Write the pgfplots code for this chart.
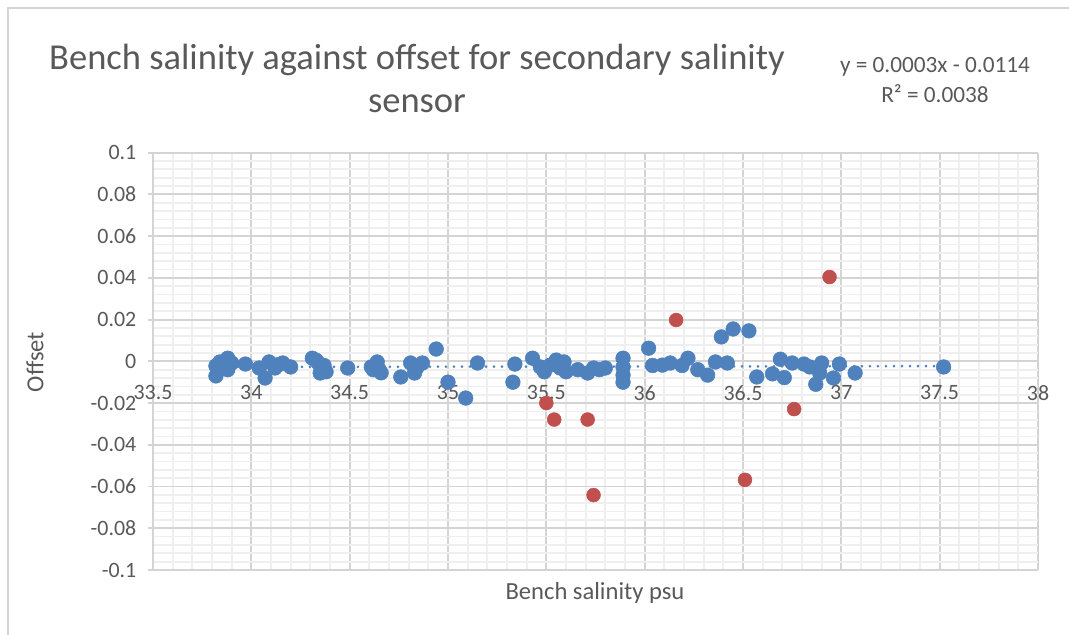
\documentclass[border=0pt]{standalone}
\usepackage{pgfplots}
\pgfplotsset{compat=1.18}
\usepackage{fontspec}
\setmainfont{Carlito}
\definecolor{sblue}{HTML}{4F81BD}
\definecolor{sred}{HTML}{C0504D}
\definecolor{txt}{HTML}{595959}
\definecolor{gmaj}{HTML}{D4D4D4}
\definecolor{gmin}{HTML}{EFEFEF}

\begin{document}
\begin{tikzpicture}
\useasboundingbox (0,0) rectangle (801.75bp,476.25bp);
\draw[gmaj, line width=1.2bp] (6bp,-20bp) -- (6bp,470.25bp) -- (820bp,470.25bp);

\begin{axis}[
    at={(114.75bp,48.75bp)}, anchor=south west,
    scale only axis,
    width=663.75bp, height=313bp,
    xmin=33.5, xmax=38, ymin=-0.1, ymax=0.1,
    xtick={33.5,34,34.5,35,35.5,36,36.5,37,37.5,38},
    ytick={-0.1,-0.08,-0.06,-0.04,-0.02,0,0.02,0.04,0.06,0.08,0.1},
    minor xtick={33.6,33.7,33.8,33.9,34.1,34.2,34.3,34.4,34.6,34.7,34.8,34.9,
                 35.1,35.2,35.3,35.4,35.6,35.7,35.8,35.9,36.1,36.2,36.3,36.4,
                 36.6,36.7,36.8,36.9,37.1,37.2,37.3,37.4,37.6,37.7,37.8,37.9},
    minor ytick={-0.096,-0.092,-0.088,-0.084,-0.076,-0.072,-0.068,-0.064,
                 -0.056,-0.052,-0.048,-0.044,-0.036,-0.032,-0.028,-0.024,
                 -0.016,-0.012,-0.008,-0.004,0.004,0.008,0.012,0.016,
                 0.024,0.028,0.032,0.036,0.044,0.048,0.052,0.056,
                 0.064,0.068,0.072,0.076,0.084,0.088,0.092,0.096},
    grid=both,
    major grid style={gmaj, line width=1.4bp},
    minor grid style={gmin, line width=1.3bp},
    axis x line=middle, axis y line=left,
    axis line style={-, gmaj, line width=1.4bp},
    hide obscured x ticks=false,
    ytick align=outside, xtick align=center,
    major tick length=4bp, minor tick length=0pt,
    x tick style={draw=none}, y tick style={gmaj, line width=1.4bp},
    tick label style={font=\fontsize{16.5}{20}\selectfont, color=txt},
    /pgf/number format/assume math mode=true,
    /pgf/number format/fixed,
    /pgf/number format/precision=2,
    scaled ticks=false,
    xticklabel style={anchor=north, yshift=-12.5bp},
    yticklabel style={anchor=east, xshift=-5bp},
    clip=false,
]
\addplot[sblue, line width=2.2bp, line cap=round, dash pattern=on 0bp off 6bp]
  coordinates {(33.81,-0.0027) (37.52,-0.0023)};

\addplot[only marks, mark=*, mark size=5.5bp, sblue, mark options={draw=sblue, fill=sblue}]
  table {
x y
33.82 -0.0022
33.82 -0.0070
33.84 -0.0003
33.86 -0.0015
33.88 0.0015
33.88 -0.0040
33.90 -0.0008
33.97 -0.0013
34.04 -0.0032
34.07 -0.0080
34.09 -0.0003
34.12 -0.0032
34.14 -0.0015
34.16 -0.0008
34.20 -0.0027
34.31 0.0015
34.33 0.0005
34.34 -0.0008
34.36 -0.0032
34.38 -0.0050
34.35 -0.0056
34.37 -0.0020
34.49 -0.0032
34.61 -0.0027
34.62 -0.0040
34.64 -0.0003
34.65 -0.0040
34.66 -0.0055
34.76 -0.0075
34.81 -0.0008
34.83 -0.0056
34.84 -0.0032
34.87 -0.0008
34.94 0.0059
35.00 -0.0100
35.09 -0.0176
35.15 -0.0008
35.33 -0.0100
35.34 -0.0013
35.43 0.0015
35.47 -0.0027
35.49 -0.0050
35.52 -0.0018
35.55 0.0006
35.57 -0.0032
35.59 -0.0003
35.60 -0.0050
35.66 -0.0040
35.71 -0.0056
35.74 -0.0032
35.77 -0.0040
35.80 -0.0032
35.89 0.0015
35.89 -0.0027
35.89 -0.0066
35.89 -0.0100
36.02 0.0063
36.04 -0.0020
36.09 -0.0018
36.13 -0.0008
36.19 -0.0020
36.22 0.0015
36.27 -0.0040
36.32 -0.0066
36.36 -0.0003
36.39 0.0117
36.42 -0.0008
36.45 0.0155
36.53 0.0146
36.57 -0.0075
36.65 -0.0060
36.69 0.0010
36.71 -0.0078
36.75 -0.0008
36.81 -0.0013
36.84 -0.0027
36.87 -0.0110
36.89 -0.0056
36.90 -0.0008
36.96 -0.0080
36.99 -0.0013
37.07 -0.0056
37.52 -0.0027
};

\addplot[only marks, mark=*, mark size=5.2bp, sred, mark options={draw=sred, fill=sred}]
  table {
x y
35.50 -0.0200
35.54 -0.0279
35.71 -0.0279
35.74 -0.0641
36.16 0.0198
36.51 -0.0568
36.76 -0.0229
36.94 0.0404
};
\end{axis}

\node[txt, align=center, font=\fontsize{27.5}{32.25}\selectfont] at (312.75bp,417.4bp)
  {Bench salinity against offset for secondary salinity\\sensor};
\node[txt, align=center, font=\fontsize{17.5}{22.5}\selectfont] at (701.25bp,416.25bp)
  {y = 0.0003x - 0.0114\\R² = 0.0038};
\node[txt, rotate=90, font=\fontsize{18.5}{22}\selectfont] at (26.25bp,204.75bp) {Offset};
\node[txt, font=\fontsize{18.5}{22}\selectfont] at (446.25bp,31.5bp) {Bench salinity psu};
\end{tikzpicture}
\end{document}
